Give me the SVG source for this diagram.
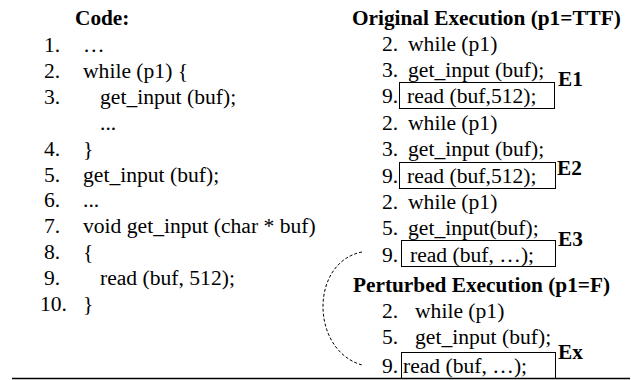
<svg xmlns="http://www.w3.org/2000/svg" width="637" height="380" viewBox="0 0 637 380">
<style>
text{font-family:"Liberation Serif","Times New Roman",serif;font-size:21.6px;fill:#000}
.b{font-weight:bold;font-size:21.3px}
.box{fill:none;stroke:#000;stroke-width:1}
.dash{fill:none;stroke:#000;stroke-width:1;stroke-dasharray:3,2}
</style>
<rect width="637" height="380" fill="#fff"/>
<g id="code">
<text class="b" x="75" y="25">Code:</text>
<text x="44" y="52">1.</text><text x="83" y="52">…</text>
<text x="44" y="78">2.</text><text x="83" y="78">while (p1) {</text>
<text x="44" y="104">3.</text><text x="100" y="104">get_input (buf);</text>
<text x="100" y="130">...</text>
<text x="44" y="156">4.</text><text x="83" y="156">}</text>
<text x="44" y="182">5.</text><text x="83" y="182">get_input (buf);</text>
<text x="44" y="207">6.</text><text x="83" y="207">...</text>
<text x="44" y="233">7.</text><text x="83" y="233">void get_input (char * buf)</text>
<text x="44" y="259">8.</text><text x="83" y="259">{</text>
<text x="44" y="285">9.</text><text x="100" y="285">read (buf, 512);</text>
<text x="40" y="311">10.</text><text x="83" y="311">}</text>
</g>
<g id="original">
<text class="b" x="352" y="25">Original Execution (p1=TTF)</text>
<text x="382" y="51">2.</text><text x="408" y="51">while (p1)</text>
<text x="382" y="77">3.</text><text x="408" y="77">get_input (buf);</text>
<g id="e1">
<rect class="box" x="399.5" y="82.5" width="155" height="26"/>
<text x="382" y="103">9.</text><text x="407" y="103">read (buf,512);</text>
<text class="b" x="558" y="86">E1</text>
</g>
<text x="382" y="130">2.</text><text x="408" y="130">while (p1)</text>
<text x="382" y="156">3.</text><text x="408" y="156">get_input (buf);</text>
<g id="e2">
<rect class="box" x="399.5" y="162.5" width="156" height="26"/>
<text x="382" y="183">9.</text><text x="407" y="183">read (buf,512);</text>
<text class="b" x="557" y="175">E2</text>
</g>
<text x="382" y="209">2.</text><text x="408" y="209">while (p1)</text>
<text x="382" y="235">5.</text><text x="408" y="235">get_input(buf);</text>
<g id="e3">
<rect class="box" x="401.5" y="240.5" width="154" height="26"/>
<text x="382" y="262">9.</text><text x="410" y="262">read (buf, …);</text>
<text class="b" x="558" y="246">E3</text>
</g>
</g>
<g id="perturbed">
<text class="b" x="353" y="292">Perturbed Execution (p1=F)</text>
<text x="382" y="318">2.</text><text x="415" y="318">while (p1)</text>
<text x="382" y="344">5.</text><text x="415" y="344">get_input (buf);</text>
<g id="ex">
<rect class="box" x="401.5" y="352.5" width="154" height="26"/>
<text x="382" y="373">9.</text><text x="403" y="373">read (buf, …);</text>
<text class="b" x="558" y="359">Ex</text>
</g>
</g>
<g id="connectors">
<path class="dash" d="M362 252 C310 262 310 350 362 365"/>
<line x1="12" y1="378.5" x2="630" y2="378.5" stroke="#000" stroke-width="1.5"/>
</g>
</svg>
